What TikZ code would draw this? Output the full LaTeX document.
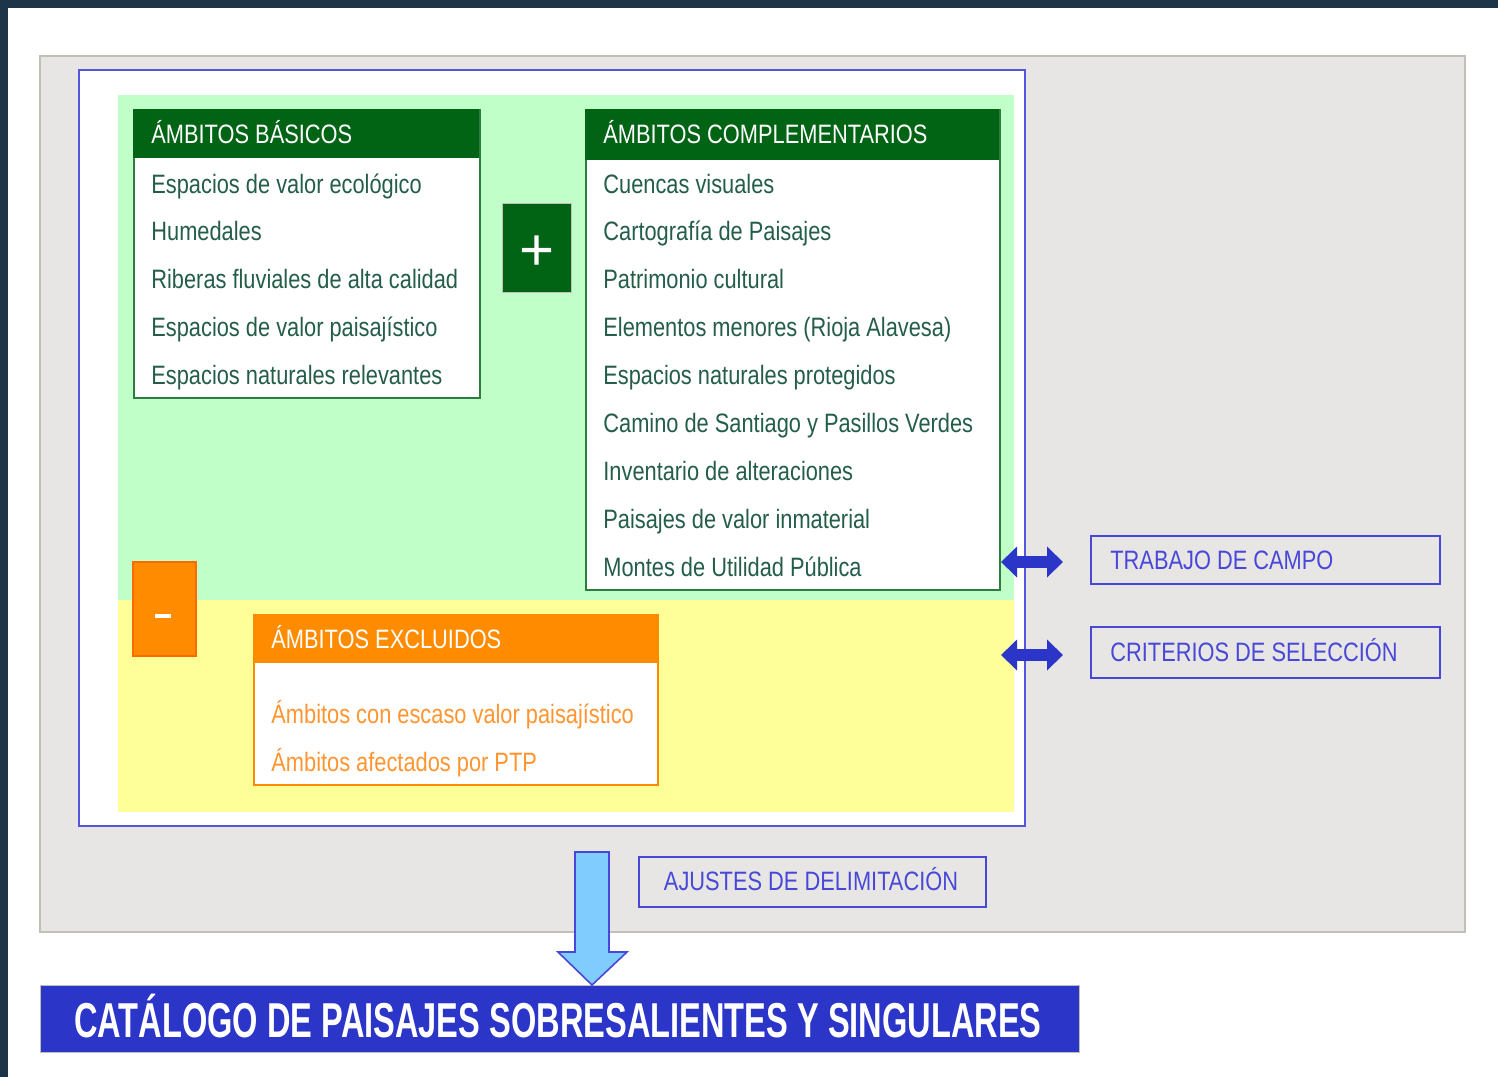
\documentclass[tikz,border=0pt]{standalone}
\usepackage{fontspec}
\setmainfont{Liberation Sans}
\newfontfamily\nar{Liberation Sans}[FakeStretch=0.82]
\newfontfamily\narb{Liberation Sans}[FakeStretch=0.665]
\usetikzlibrary{arrows.meta}
\definecolor{navy}{HTML}{1D3549}
\definecolor{grayfill}{HTML}{E8E6E4}
\definecolor{grayline}{HTML}{C2BFB9}
\definecolor{frameblue}{HTML}{5555DD}
\definecolor{lightgreen}{HTML}{C0FFC8}
\definecolor{lightyellow}{HTML}{FFFF99}
\definecolor{dkgreen}{HTML}{006414}
\definecolor{grline}{HTML}{2E7D40}
\definecolor{grtext}{HTML}{245E48}
\definecolor{orange}{HTML}{FF8C00}
\definecolor{orline}{HTML}{FF6A00}
\definecolor{ortext}{HTML}{FF9530}
\definecolor{deepblue}{HTML}{2B35C8}
\definecolor{labelblue}{HTML}{4848D8}
\definecolor{skyblue}{HTML}{80CCFF}
\tikzset{
  box/.style={draw=grline, line width=1pt, fill=white, inner sep=0pt, anchor=north west},
  hdr/.style={fill=dkgreen, inner sep=0pt, anchor=north west},
  hdrtext/.style={text=white, font=\nar\fontsize{13.3}{15}\selectfont, anchor=base west, inner sep=0pt},
  item/.style={text=grtext, font=\nar\fontsize{13.3}{15}\selectfont, anchor=base west, inner sep=0pt},
  oitem/.style={text=ortext, font=\nar\fontsize{13.3}{15}\selectfont, anchor=base west, inner sep=0pt},
  lbox/.style={draw=labelblue, line width=1pt, inner sep=0pt, anchor=north west},
  ltext/.style={text=labelblue, font=\nar\fontsize{13.3}{15}\selectfont, anchor=base west, inner sep=0pt},
  dblarrow/.style={line width=6pt, deepblue, {Triangle[width=15pt,length=8pt]}-{Triangle[width=15pt,length=8pt]}},
}
\begin{document}
\begin{tikzpicture}[x=0.5pt,y=-0.5pt]
\useasboundingbox (0,0) rectangle (1498,1077);
\fill[white] (0,0) rectangle (1498,1077);
\fill[navy] (0,0) rectangle (1498,8);
\fill[navy] (0,0) rectangle (8,1077);
% gray panel
\draw[fill=grayfill, draw=grayline, line width=1.2pt] (40,56) rectangle (1465,932);
% framed white box
\draw[fill=white, draw=frameblue, line width=1pt] (79,70) rectangle (1025,826);
\fill[lightgreen] (118,95) rectangle (1014,600);
\fill[lightyellow] (118,600) rectangle (1014,812);
% basic
\node[box, minimum width=173pt, minimum height=144pt] (basicos) at (133,109) {};
\node[hdr, minimum width=173pt, minimum height=24.5pt] (basicoshdr) at (133,109) {};
\node[hdrtext] (basicostitle) at (151,143) {ÁMBITOS BÁSICOS};
\node[item] (b1) at (151,193) {Espacios de valor ecológico};
\node[item] (b2) at (151,240) {Humedales};
\node[item] (b3) at (151,288) {Riberas fluviales de alta calidad};
\node[item] (b4) at (151,336) {Espacios de valor paisajístico};
\node[item] (b5) at (151,384) {Espacios naturales relevantes};
% plus
\node[fill=dkgreen, draw=grayline, line width=0.4pt, inner sep=0pt, anchor=north west, minimum width=34.5pt, minimum height=44.5pt] (plus) at (502,203) {};
\node[text=white, font=\fontsize{30}{30}\selectfont, inner sep=0pt] (plussign) at ([yshift=-2.5pt]plus.center) {+};
% complementary
\node[box, minimum width=207pt, minimum height=240pt] (compl) at (585,109) {};
\node[hdr, minimum width=207pt, minimum height=25.5pt] (complhdr) at (585,109) {};
\node[hdrtext] (compltitle) at (603,143) {ÁMBITOS COMPLEMENTARIOS};
\node[item] (c1) at (603,193) {Cuencas visuales};
\node[item] (c2) at (603,240) {Cartografía de Paisajes};
\node[item] (c3) at (603,288) {Patrimonio cultural};
\node[item] (c4) at (603,336) {Elementos menores (Rioja Alavesa)};
\node[item] (c5) at (603,384) {Espacios naturales protegidos};
\node[item] (c6) at (603,432) {Camino de Santiago y Pasillos Verdes};
\node[item] (c7) at (603,480) {Inventario de alteraciones};
\node[item] (c8) at (603,528) {Paisajes de valor inmaterial};
\node[item] (c9) at (603,576) {Montes de Utilidad Pública};
% minus
\node[fill=orange, draw=orline, line width=0.8pt, inner sep=0pt, anchor=north west, minimum width=31.5pt, minimum height=47pt] (minus) at (132,561) {};
\fill[white] (155,614) rectangle (171,618);
% excluded
\node[draw=orange, line width=1pt, fill=white, inner sep=0pt, anchor=north west, minimum width=202pt, minimum height=85pt] (excl) at (253,614) {};
\node[fill=orange, inner sep=0pt, anchor=north west, minimum width=202pt, minimum height=24.5pt] (exclhdr) at (253,614) {};
\node[hdrtext] (excltitle) at (271,648) {ÁMBITOS EXCLUIDOS};
\node[oitem] (e1) at (271,723) {Ámbitos con escaso valor paisajístico};
\node[oitem] (e2) at (271,771) {Ámbitos afectados por PTP};
% side labels
\node[lbox, minimum width=174.5pt, minimum height=24pt] (trabajo) at (1090,535) {};
\node[ltext] (trabajotext) at (1110,569) {TRABAJO DE CAMPO};
\node[lbox, minimum width=174.5pt, minimum height=25.5pt] (criterios) at (1090,626) {};
\node[ltext] (criteriostext) at (1110,661) {CRITERIOS DE SELECCIÓN};
\node[lbox, minimum width=173.5pt, minimum height=25pt] (ajustes) at (638,856) {};
\node[ltext, anchor=base] (ajustestext) at (811,890) {AJUSTES DE DELIMITACIÓN};
% double arrows
\coordinate (a1l) at (1001,562);
\coordinate (a1r) at (1063,562);
\coordinate (a2l) at (1001,655);
\coordinate (a2r) at (1063,655);
\draw[dblarrow] (a1l) -- (a1r);
\draw[dblarrow] (a2l) -- (a2r);
% catalog
\node[fill=deepblue, draw=grayline, line width=0.6pt, inner sep=0pt, anchor=north west, minimum width=519.5pt, minimum height=33.5pt] (catalogo) at (40,985) {};
\node[text=white, font=\narb\bfseries\fontsize{24.5}{26}\selectfont, anchor=base, inner sep=0pt] (catalogotext) at (558,1037) {CATÁLOGO DE PAISAJES SOBRESALIENTES Y SINGULARES};
% down arrow
\coordinate (dtip) at (catalogo.north -| 592,0);
\draw[fill=skyblue, draw=labelblue, line width=0.8pt, line join=miter]
  (575,852) -- (609,852) -- (609,952) -- (627,952) -- (dtip) -- (558,952) -- (575,952) -- cycle;
\end{tikzpicture}
\end{document}
